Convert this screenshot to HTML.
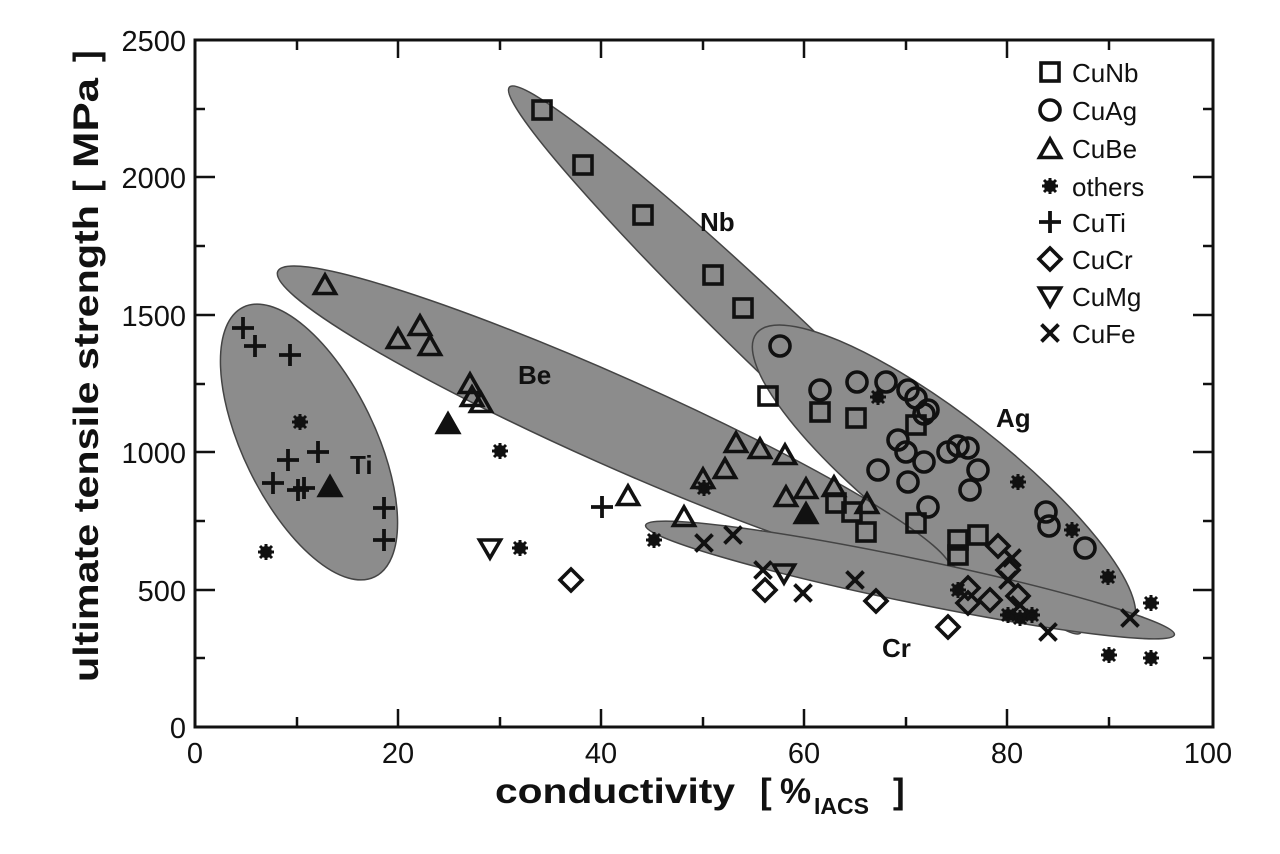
<!DOCTYPE html>
<html><head><meta charset="utf-8"><style>
html,body{margin:0;padding:0;background:#fff}
svg{display:block}
text{font-family:"Liberation Sans",Arial,sans-serif;fill:#111}
</style></head><body>
<svg width="1280" height="854" viewBox="0 0 1280 854" xmlns="http://www.w3.org/2000/svg">
<defs>
<g id="sq"><rect x="-9" y="-9" width="18" height="18" fill="none" stroke="#111" stroke-width="3.6"/></g>
<g id="ci"><circle r="10" fill="none" stroke="#111" stroke-width="3.6"/></g>
<g id="tr"><polygon points="0,-11 10.5,7.5 -10.5,7.5" fill="none" stroke="#111" stroke-width="3.6"/></g>
<g id="trf"><polygon points="0,-11 10.5,7.5 -10.5,7.5" fill="#111" stroke="#111" stroke-width="3.6"/></g>
<g id="dt"><polygon points="0,10 10.5,-8 -10.5,-8" fill="none" stroke="#111" stroke-width="3.6"/></g>
<g id="di"><polygon points="0,-11 11,0 0,11 -11,0" fill="none" stroke="#111" stroke-width="3.6"/></g>
<g id="pl" stroke="#111" stroke-width="3.8"><line x1="-11" y1="0" x2="11" y2="0"/><line x1="0" y1="-11" x2="0" y2="11"/></g>
<g id="xx" stroke="#111" stroke-width="3.8"><line x1="-8.5" y1="-8.5" x2="8.5" y2="8.5"/><line x1="-8.5" y1="8.5" x2="8.5" y2="-8.5"/></g>
<g id="as" stroke="#111" stroke-width="3"><line x1="-8" y1="0" x2="8" y2="0"/><line x1="0" y1="-8" x2="0" y2="8"/><line x1="-6" y1="-6" x2="6" y2="6"/><line x1="-6" y1="6" x2="6" y2="-6"/><circle r="4.5" fill="#111"/></g>
</defs>

<g fill="#8c8c8c" stroke="#444" stroke-width="1.5">
<ellipse cx="795" cy="360" rx="395" ry="34" transform="rotate(43.7 795 360)"/>
<ellipse cx="944" cy="480" rx="238" ry="64" transform="rotate(38 944 480)"/>
<ellipse cx="614" cy="421" rx="368" ry="44" transform="rotate(24 614 421)"/>
<ellipse cx="309" cy="442" rx="150" ry="66" transform="rotate(64 309 442)"/>
<ellipse cx="910" cy="580" rx="270" ry="22" transform="rotate(11.7 910 580)"/>
</g>

<rect x="195" y="40" width="1018" height="687" fill="none" stroke="#111" stroke-width="3"/>
<g stroke="#111" stroke-width="2.5">
<line x1="398" y1="727" x2="398" y2="709"/><line x1="601" y1="727" x2="601" y2="709"/><line x1="804" y1="727" x2="804" y2="709"/><line x1="1007" y1="727" x2="1007" y2="709"/>
<line x1="297" y1="727" x2="297" y2="717"/><line x1="500" y1="727" x2="500" y2="717"/><line x1="703" y1="727" x2="703" y2="717"/><line x1="906" y1="727" x2="906" y2="717"/><line x1="1109" y1="727" x2="1109" y2="717"/>
<line x1="398" y1="40" x2="398" y2="58"/><line x1="601" y1="40" x2="601" y2="58"/><line x1="804" y1="40" x2="804" y2="58"/><line x1="1007" y1="40" x2="1007" y2="58"/>
<line x1="297" y1="40" x2="297" y2="50"/><line x1="500" y1="40" x2="500" y2="50"/><line x1="703" y1="40" x2="703" y2="50"/><line x1="906" y1="40" x2="906" y2="50"/><line x1="1109" y1="40" x2="1109" y2="50"/>
<line x1="195" y1="590" x2="215" y2="590"/><line x1="195" y1="452" x2="215" y2="452"/><line x1="195" y1="315" x2="215" y2="315"/><line x1="195" y1="177" x2="215" y2="177"/>
<line x1="195" y1="658" x2="205" y2="658"/><line x1="195" y1="521" x2="205" y2="521"/><line x1="195" y1="384" x2="205" y2="384"/><line x1="195" y1="246" x2="205" y2="246"/><line x1="195" y1="109" x2="205" y2="109"/>
<line x1="1213" y1="590" x2="1193" y2="590"/><line x1="1213" y1="452" x2="1193" y2="452"/><line x1="1213" y1="315" x2="1193" y2="315"/><line x1="1213" y1="177" x2="1193" y2="177"/>
<line x1="1213" y1="658" x2="1203" y2="658"/><line x1="1213" y1="521" x2="1203" y2="521"/><line x1="1213" y1="384" x2="1203" y2="384"/><line x1="1213" y1="246" x2="1203" y2="246"/><line x1="1213" y1="109" x2="1203" y2="109"/>
</g>

<g font-size="29" text-anchor="middle">
<text x="195" y="763">0</text><text x="398" y="763">20</text><text x="601" y="763">40</text><text x="804" y="763">60</text><text x="1007" y="763">80</text><text x="1208" y="763">100</text>
</g>
<g font-size="29" text-anchor="end">
<text x="186" y="738">0</text><text x="186" y="601">500</text><text x="186" y="463">1000</text><text x="186" y="326">1500</text><text x="186" y="188">2000</text><text x="186" y="51">2500</text>
</g>
<g font-size="35" font-weight="bold">
<text x="495" y="803" textLength="240" lengthAdjust="spacingAndGlyphs">conductivity</text>
<text x="760" y="803">[</text>
<text x="780" y="803">%</text>
<text x="814" y="814" font-size="23">IACS</text>
<text x="893" y="803">]</text>
</g>
<g transform="translate(98,0) rotate(-90)" font-size="35" font-weight="bold">
<text x="-682" y="0" textLength="477" lengthAdjust="spacingAndGlyphs">ultimate tensile strength</text>
<text x="-192" y="0">[</text>
<text x="-168" y="0" textLength="90" lengthAdjust="spacingAndGlyphs">MPa</text>
<text x="-62" y="0">]</text>
</g>

<g font-size="26" font-weight="bold">
<text x="700" y="231">Nb</text><text x="518" y="384">Be</text><text x="996" y="427">Ag</text><text x="350" y="474">Ti</text><text x="882" y="657">Cr</text>
</g>

<use href="#sq" x="542" y="110"/><use href="#sq" x="583" y="165"/><use href="#sq" x="643" y="215"/><use href="#sq" x="713" y="275"/><use href="#sq" x="743" y="308"/><use href="#sq" x="768" y="396"/><use href="#sq" x="820" y="412"/><use href="#sq" x="856" y="418"/><use href="#sq" x="836" y="503"/><use href="#sq" x="852" y="512"/><use href="#sq" x="866" y="532"/><use href="#sq" x="916" y="523"/><use href="#sq" x="958" y="540"/><use href="#sq" x="958" y="555"/><use href="#sq" x="978" y="535"/><use href="#sq" x="916" y="425"/>
<use href="#ci" x="780" y="346"/><use href="#ci" x="820" y="390"/><use href="#ci" x="857" y="382"/><use href="#ci" x="878" y="470"/><use href="#ci" x="886" y="382"/><use href="#ci" x="898" y="440"/><use href="#ci" x="908" y="390"/><use href="#ci" x="908" y="482"/><use href="#ci" x="916" y="398"/><use href="#ci" x="924" y="414"/><use href="#ci" x="928" y="410"/><use href="#ci" x="924" y="462"/><use href="#ci" x="928" y="507"/><use href="#ci" x="948" y="452"/><use href="#ci" x="958" y="446"/><use href="#ci" x="968" y="448"/><use href="#ci" x="970" y="490"/><use href="#ci" x="978" y="470"/><use href="#ci" x="1046" y="512"/><use href="#ci" x="1049" y="526"/><use href="#ci" x="1085" y="548"/><use href="#ci" x="906" y="452"/>
<use href="#tr" x="325" y="286"/><use href="#tr" x="398" y="340"/><use href="#tr" x="420" y="327"/><use href="#tr" x="430" y="347"/><use href="#tr" x="470" y="385"/><use href="#tr" x="472" y="398"/><use href="#tr" x="481" y="404"/><use href="#trf" x="448" y="425"/><use href="#trf" x="330" y="488"/><use href="#tr" x="628" y="497"/><use href="#tr" x="684" y="518"/><use href="#tr" x="703" y="480"/><use href="#tr" x="725" y="470"/><use href="#tr" x="736" y="444"/><use href="#tr" x="760" y="450"/><use href="#tr" x="785" y="456"/><use href="#tr" x="786" y="498"/><use href="#tr" x="806" y="490"/><use href="#trf" x="806" y="515"/><use href="#tr" x="834" y="488"/><use href="#tr" x="867" y="505"/>
<use href="#as" x="266" y="552"/><use href="#as" x="300" y="422"/><use href="#as" x="500" y="451"/><use href="#as" x="520" y="548"/><use href="#as" x="654" y="540"/><use href="#as" x="704" y="488"/><use href="#as" x="878" y="397"/><use href="#as" x="1018" y="482"/><use href="#as" x="1072" y="530"/><use href="#as" x="1108" y="577"/><use href="#as" x="1109" y="655"/><use href="#as" x="1151" y="603"/><use href="#as" x="1151" y="658"/><use href="#as" x="1008" y="615"/><use href="#as" x="1020" y="618"/><use href="#as" x="1032" y="615"/><use href="#as" x="958" y="590"/>
<use href="#pl" x="243" y="328"/><use href="#pl" x="255" y="346"/><use href="#pl" x="290" y="355"/><use href="#pl" x="288" y="460"/><use href="#pl" x="318" y="452"/><use href="#pl" x="273" y="483"/><use href="#pl" x="304" y="488"/><use href="#pl" x="384" y="508"/><use href="#pl" x="384" y="540"/><use href="#pl" x="602" y="507"/><use href="#pl" x="298" y="490"/>
<use href="#di" x="571" y="580"/><use href="#di" x="765" y="590"/><use href="#di" x="876" y="601"/><use href="#di" x="948" y="627"/><use href="#di" x="968" y="588"/><use href="#di" x="968" y="603"/><use href="#di" x="990" y="600"/><use href="#di" x="998" y="546"/><use href="#di" x="1008" y="570"/><use href="#di" x="1018" y="596"/>
<use href="#dt" x="490" y="548"/><use href="#dt" x="784" y="573"/>
<use href="#xx" x="704" y="543"/><use href="#xx" x="733" y="535"/><use href="#xx" x="763" y="570"/><use href="#xx" x="803" y="593"/><use href="#xx" x="855" y="580"/><use href="#xx" x="1008" y="580"/><use href="#xx" x="1048" y="632"/><use href="#xx" x="1130" y="618"/><use href="#xx" x="1012" y="558"/><use href="#xx" x="1020" y="605"/>

<use href="#sq" x="1050" y="72"/><use href="#ci" x="1050" y="110"/><use href="#tr" x="1050" y="150"/><use href="#as" x="1050" y="186"/><use href="#pl" x="1050" y="222"/><use href="#di" x="1050" y="259"/><use href="#dt" x="1050" y="296"/><use href="#xx" x="1050" y="333"/>
<g font-size="26">
<text x="1072" y="82">CuNb</text><text x="1072" y="120">CuAg</text><text x="1072" y="158">CuBe</text><text x="1072" y="196">others</text><text x="1072" y="232">CuTi</text><text x="1072" y="269">CuCr</text><text x="1072" y="306">CuMg</text><text x="1072" y="343">CuFe</text>
</g>
</svg>
</body></html>
